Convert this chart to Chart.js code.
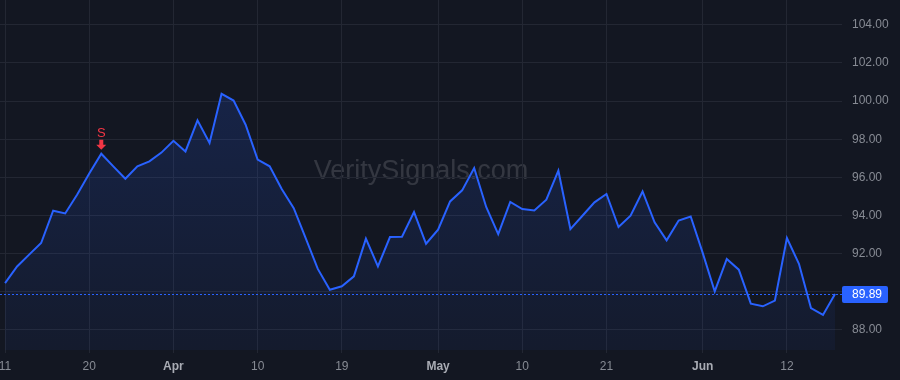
<!DOCTYPE html>
<html>
<head>
<meta charset="utf-8">
<script src="https://cdn.jsdelivr.net/npm/chart.js@4.4.1/dist/chart.umd.min.js"></script>
<style>
  html, body { margin: 0; padding: 0; background: #131722; }
  #wrap { width: 900px; height: 380px; }
</style>
</head>
<body>
<div id="wrap"><canvas id="priceChart" width="900" height="380"></canvas></div>
<script>
// trading days, Mar 11 - Jun 18
const dates = [
  'Mar 11','Mar 12','Mar 13','Mar 14','Mar 15','Mar 18','Mar 19','Mar 20','Mar 21','Mar 22',
  'Mar 25','Mar 26','Mar 27','Mar 28','Apr 1','Apr 2','Apr 3','Apr 4','Apr 5','Apr 8',
  'Apr 9','Apr 10','Apr 11','Apr 12','Apr 15','Apr 16','Apr 17','Apr 18','Apr 19','Apr 22',
  'Apr 23','Apr 24','Apr 25','Apr 26','Apr 29','Apr 30','May 1','May 2','May 3','May 6',
  'May 7','May 8','May 9','May 10','May 13','May 14','May 15','May 16','May 17','May 20',
  'May 21','May 22','May 23','May 24','May 28','May 29','May 30','May 31','Jun 3','Jun 4',
  'Jun 5','Jun 6','Jun 7','Jun 10','Jun 11','Jun 12','Jun 13','Jun 14','Jun 17','Jun 18'
];
const prices = [
  90.46, 91.33, 91.95, 92.56, 94.25, 94.11, 95.10, 96.20, 97.24, 96.58,
  95.93, 96.58, 96.84, 97.30, 97.92, 97.36, 98.99, 97.80, 100.38, 100.03,
  98.76, 96.93, 96.58, 95.39, 94.39, 92.80, 91.20, 90.11, 90.29, 90.81,
  92.79, 91.33, 92.87, 92.89, 94.18, 92.52, 93.26, 94.74, 95.32, 96.49,
  94.45, 93.03, 94.71, 94.34, 94.27, 94.83, 96.35, 93.29, 93.99, 94.69,
  95.13, 93.40, 93.99, 95.26, 93.64, 92.70, 93.74, 93.95, 92.04, 90.02,
  91.72, 91.16, 89.38, 89.24, 89.54, 92.82, 91.47, 89.15, 88.79, 89.89
];
// x-axis labels (index into dates)
const xTickIdx = [0, 7, 14, 21, 28, 36, 43, 50, 58, 65];
const xTickText = ['11', '20', 'Apr', '10', '19', 'May', '10', '21', 'Jun', '12'];
const monthTicks = ['Apr', 'May', 'Jun'];
const yTicks = [88, 90, 92, 94, 96, 98, 100, 102, 104];
const signalIdx = 8;
const signalText = 'S';
const lastPrice = 89.89;

const BG = '#131722';
const BLUE = '#2962ff';
const GRID = '#232733';
const TXT = '#878b94';

const overlays = {
  id: 'overlays',
  beforeDraw(chart) {
    const { ctx, chartArea: a } = chart;
    ctx.save();
    ctx.fillStyle = BG;
    ctx.fillRect(0, 0, chart.width, chart.height);
    // watermark
    ctx.font = '27px "Liberation Sans", Arial, sans-serif';
    ctx.fillStyle = 'rgba(255,255,255,0.14)';
    ctx.textAlign = 'center';
    ctx.textBaseline = 'middle';
    ctx.fillText('VeritySignals.com', (a.left + a.right) / 2, 172);
    ctx.restore();
  },
  afterDatasetsDraw(chart) {
    const { ctx, chartArea: a, scales } = chart;
    const yL = Math.round(scales.y.getPixelForValue(lastPrice)) + 0.5;
    ctx.save();
    // last price dotted line
    ctx.strokeStyle = BLUE;
    ctx.lineWidth = 1;
    ctx.setLineDash([2, 2]);
    ctx.beginPath();
    ctx.moveTo(a.left, yL);
    ctx.lineTo(a.right, yL);
    ctx.stroke();
    ctx.setLineDash([]);
    // last price label
    ctx.fillStyle = BLUE;
    ctx.beginPath();
    ctx.roundRect(a.right, yL - 8.5, 46, 17, 2);
    ctx.fill();
    ctx.fillStyle = '#ffffff';
    ctx.font = '12px "Liberation Sans", Arial, sans-serif';
    ctx.textAlign = 'left';
    ctx.textBaseline = 'middle';
    ctx.fillText(lastPrice.toFixed(2), a.right + 10, yL + 0.5);
    // signal marker
    const sx = scales.x.getPixelForValue(signalIdx);
    const sy = scales.y.getPixelForValue(prices[signalIdx]);
    ctx.fillStyle = '#f23645';
    ctx.fillRect(sx - 2, sy - 14, 4, 6);
    ctx.beginPath();
    ctx.moveTo(sx - 5, sy - 9);
    ctx.lineTo(sx + 5, sy - 9);
    ctx.lineTo(sx, sy - 4);
    ctx.closePath();
    ctx.fill();
    ctx.font = '13px "Liberation Sans", Arial, sans-serif';
    ctx.textAlign = 'center';
    ctx.textBaseline = 'alphabetic';
    ctx.fillText(signalText, sx, sy - 17);
    ctx.restore();
  }
};

const ctx = document.getElementById('priceChart').getContext('2d');
const priceChart = new Chart(ctx, {
  type: 'line',
  data: {
    datasets: [{
      label: 'Price',
      data: prices.map((p, i) => ({ x: i, y: p })),
      borderColor: BLUE,
      borderWidth: 2,
      pointRadius: 0,
      tension: 0,
      fill: 'start',
      backgroundColor: (c) => {
        const a = c.chart.chartArea;
        if (!a) return 'rgba(41,98,255,0.12)';
        const g = c.chart.ctx.createLinearGradient(0, a.top + 90, 0, a.bottom);
        g.addColorStop(0, 'rgba(41,98,255,0.17)');
        g.addColorStop(1, 'rgba(41,98,255,0.05)');
        return g;
      }
    }]
  },
  options: {
    responsive: false,
    animation: false,
    layout: { padding: 0 },
    plugins: {
      legend: { display: false },
      tooltip: { enabled: false }
    },
    scales: {
      x: {
        type: 'linear',
        min: -0.42,
        max: 69.58,
        border: { display: false },
        grid: { color: GRID, drawTicks: true, tickLength: 3, tickColor: GRID },
        afterBuildTicks: (s) => { s.ticks = xTickIdx.map(v => ({ value: v })); },
        afterFit: (s) => { s.height = 30; s.paddingLeft = 0; s.paddingRight = 0; },
        ticks: {
          autoSkip: false,
          maxRotation: 0,
          padding: 6,
          color: (c) => monthTicks.includes(xTickText[c.index]) ? '#a9acb4' : TXT,
          font: (c) => ({
            family: '"Liberation Sans", Arial, sans-serif',
            size: 12,
            weight: monthTicks.includes(xTickText[c.index]) ? 'bold' : 'normal'
          }),
          callback: (v, i) => xTickText[i]
        }
      },
      y: {
        position: 'right',
        min: 86.95,
        max: 105.3,
        border: { display: false },
        grid: { color: GRID, drawTicks: false },
        afterBuildTicks: (s) => { s.ticks = yTicks.map(v => ({ value: v })); },
        afterFit: (s) => { s.width = 58; s.paddingTop = 0; s.paddingBottom = 0; },
        ticks: {
          padding: 10,
          color: TXT,
          font: { family: '"Liberation Sans", Arial, sans-serif', size: 12 },
          callback: (v) => v === 90 ? '' : v.toFixed(2)
        }
      }
    }
  },
  plugins: [overlays]
});
</script>
</body>
</html>
